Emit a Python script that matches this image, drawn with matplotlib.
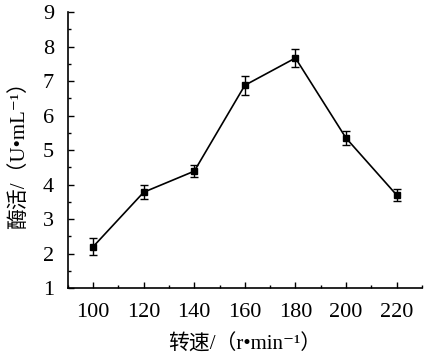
import numpy as np
import matplotlib.pyplot as plt
from matplotlib.ticker import MultipleLocator

speed = [100, 120, 140, 160, 180, 200, 220]
activity = [2.2, 3.78, 4.39, 6.88, 7.67, 5.35, 3.7]
err = [0.25, 0.2, 0.18, 0.28, 0.25, 0.2, 0.18]

plt.rcParams['font.family'] = ['Liberation Serif', 'Noto Sans CJK SC', 'DejaVu Serif']

fig = plt.figure(figsize=(4.24, 3.57), dpi=100)
ax = fig.add_axes([0.160, 0.193, 0.835, 0.773])

ax.errorbar(speed, activity, yerr=err, color='black', marker='s', markersize=5,
            linewidth=1.2, elinewidth=1, capsize=3, capthick=1)

ax.set_xlim(90, 230)
ax.set_ylim(1, 9)
ax.xaxis.set_major_locator(MultipleLocator(20))
ax.xaxis.set_minor_locator(MultipleLocator(10))
ax.yaxis.set_major_locator(MultipleLocator(1))
ax.yaxis.set_minor_locator(MultipleLocator(0.5))
ax.tick_params(which='both', direction='in', labelsize=16, width=1)
ax.tick_params(which='major', length=4)
ax.tick_params(axis='x', which='major', pad=11)
ax.tick_params(axis='y', which='major', pad=10)
ax.tick_params(which='minor', length=2.5)
ax.spines['top'].set_visible(False)
ax.spines['right'].set_visible(False)
for s in ['left', 'bottom']:
    ax.spines[s].set_linewidth(1.2)

ax.set_xlabel('转速/（r•min⁻¹）', fontsize=15, labelpad=9)
ax.set_ylabel('酶活/（U•mL⁻¹）', fontsize=15, labelpad=10)

fig.savefig('out.png', dpi=100)
